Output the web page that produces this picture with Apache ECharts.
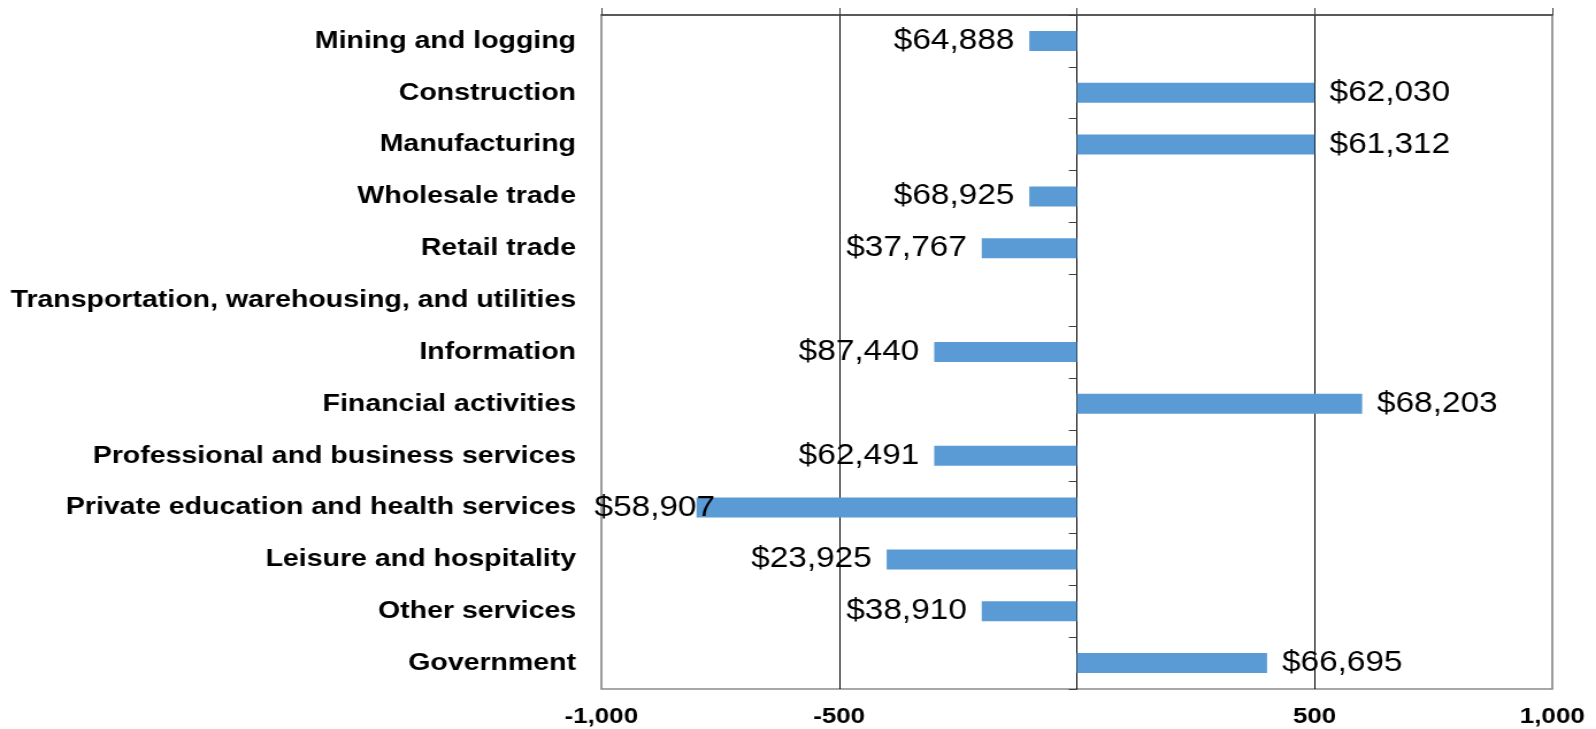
<!DOCTYPE html>
<html>
<head>
<meta charset="utf-8">
<script src="https://cdn.jsdelivr.net/npm/echarts@6/dist/echarts.min.js"></script>
<style>
  html, body { margin: 0; padding: 0; background: #fff; overflow: hidden; }
  /* the original picture is stretched sideways, so the chart is drawn narrower and scaled */
  #chart { width: 1388px; height: 729px; transform: scaleX(1.14986); transform-origin: 0 0; }
</style>
</head>
<body>
<div id="chart"></div>
<script>
const categories = [
  'Mining and logging',
  'Construction',
  'Manufacturing',
  'Wholesale trade',
  'Retail trade',
  'Transportation, warehousing, and utilities',
  'Information',
  'Financial activities',
  'Professional and business services',
  'Private education and health services',
  'Leisure and hospitality',
  'Other services',
  'Government'
];
const changeValues = [-100, 500, 500, -100, -200, null, -300, 600, -300, -800, -400, -200, 400];
const wageLabels = ['$64,888', '$62,030', '$61,312', '$68,925', '$37,767', '', '$87,440', '$68,203',
  '$62,491', '$58,907', '$23,925', '$38,910', '$66,695'];
const xTickLabels = ['-1,000', '-500', '', '500', '1,000'];
const xMin = -1000;
const xMax = 1000;
const xStep = 500;

const chart = echarts.init(document.getElementById('chart'));
const gridLeft = 523;
const font = '"Liberation Sans", Arial, sans-serif';

const option = {
  backgroundColor: '#fff',
  animation: false,
  grid: {
    left: gridLeft,
    right: 38,
    top: 15,
    bottom: 40,
    containLabel: false,
    show: true,
    borderColor: '#8a8a8a',
    borderWidth: 1.7
  },
  xAxis: [{
    type: 'value',
    position: 'top',
    min: xMin,
    max: xMax,
    interval: xStep,
    axisLine: { show: true, lineStyle: { color: '#404040', width: 1.5 } },
    axisTick: { show: true, length: 7, lineStyle: { color: '#404040', width: 1 } },
    axisLabel: { show: false },
    splitLine: {
      show: true,
      showMinLine: false,
      showMaxLine: false,
      lineStyle: { color: '#000', width: 1 }
    }
  }, {
    type: 'value',
    position: 'bottom',
    min: xMin,
    max: xMax,
    interval: xStep,
    axisLine: { show: false },
    axisTick: { show: false },
    splitLine: { show: false },
    axisLabel: {
      margin: 16,
      color: '#000',
      fontFamily: font,
      fontWeight: 'bold',
      fontSize: 22.5,
      formatter: function (v) {
        return xTickLabels[Math.round((v - xMin) / xStep)];
      }
    }
  }],
  yAxis: [{
    // category names at the left of the plot
    type: 'category',
    data: categories,
    inverse: true,
    position: 'left',
    axisLine: { show: false, onZero: false },
    axisTick: { show: false },
    axisLabel: {
      margin: 22,
      color: '#000',
      fontFamily: font,
      fontWeight: 'bold',
      fontSize: 24.8
    }
  }, {
    // the zero line with its short ticks
    type: 'category',
    data: categories,
    inverse: true,
    position: 'left',
    axisLine: { show: true, onZero: true, lineStyle: { color: '#000', width: 1 } },
    axisTick: { show: true, length: 7, lineStyle: { color: '#404040', width: 1 } },
    axisLabel: { show: false }
  }],
  series: [{
    type: 'bar',
    xAxisIndex: 0,
    yAxisIndex: 0,
    barWidth: 20,
    itemStyle: { color: '#5B9BD5' },
    data: changeValues.map(function (v) {
      return { value: v, label: { position: v < 0 ? 'left' : 'right' } };
    }),
    label: {
      show: true,
      distance: 13,
      color: '#000',
      fontFamily: font,
      fontSize: 29,
      formatter: function (p) { return wageLabels[p.dataIndex]; }
    },
    // like the original, a label that would leave the plot is pushed back in
    labelLayout: function (p) {
      const minX = gridLeft - 6;
      if (p.labelRect && p.labelRect.x < minX) {
        return { dx: minX - p.labelRect.x };
      }
      return {};
    }
  }]
};

chart.setOption(option);
</script>
</body>
</html>
